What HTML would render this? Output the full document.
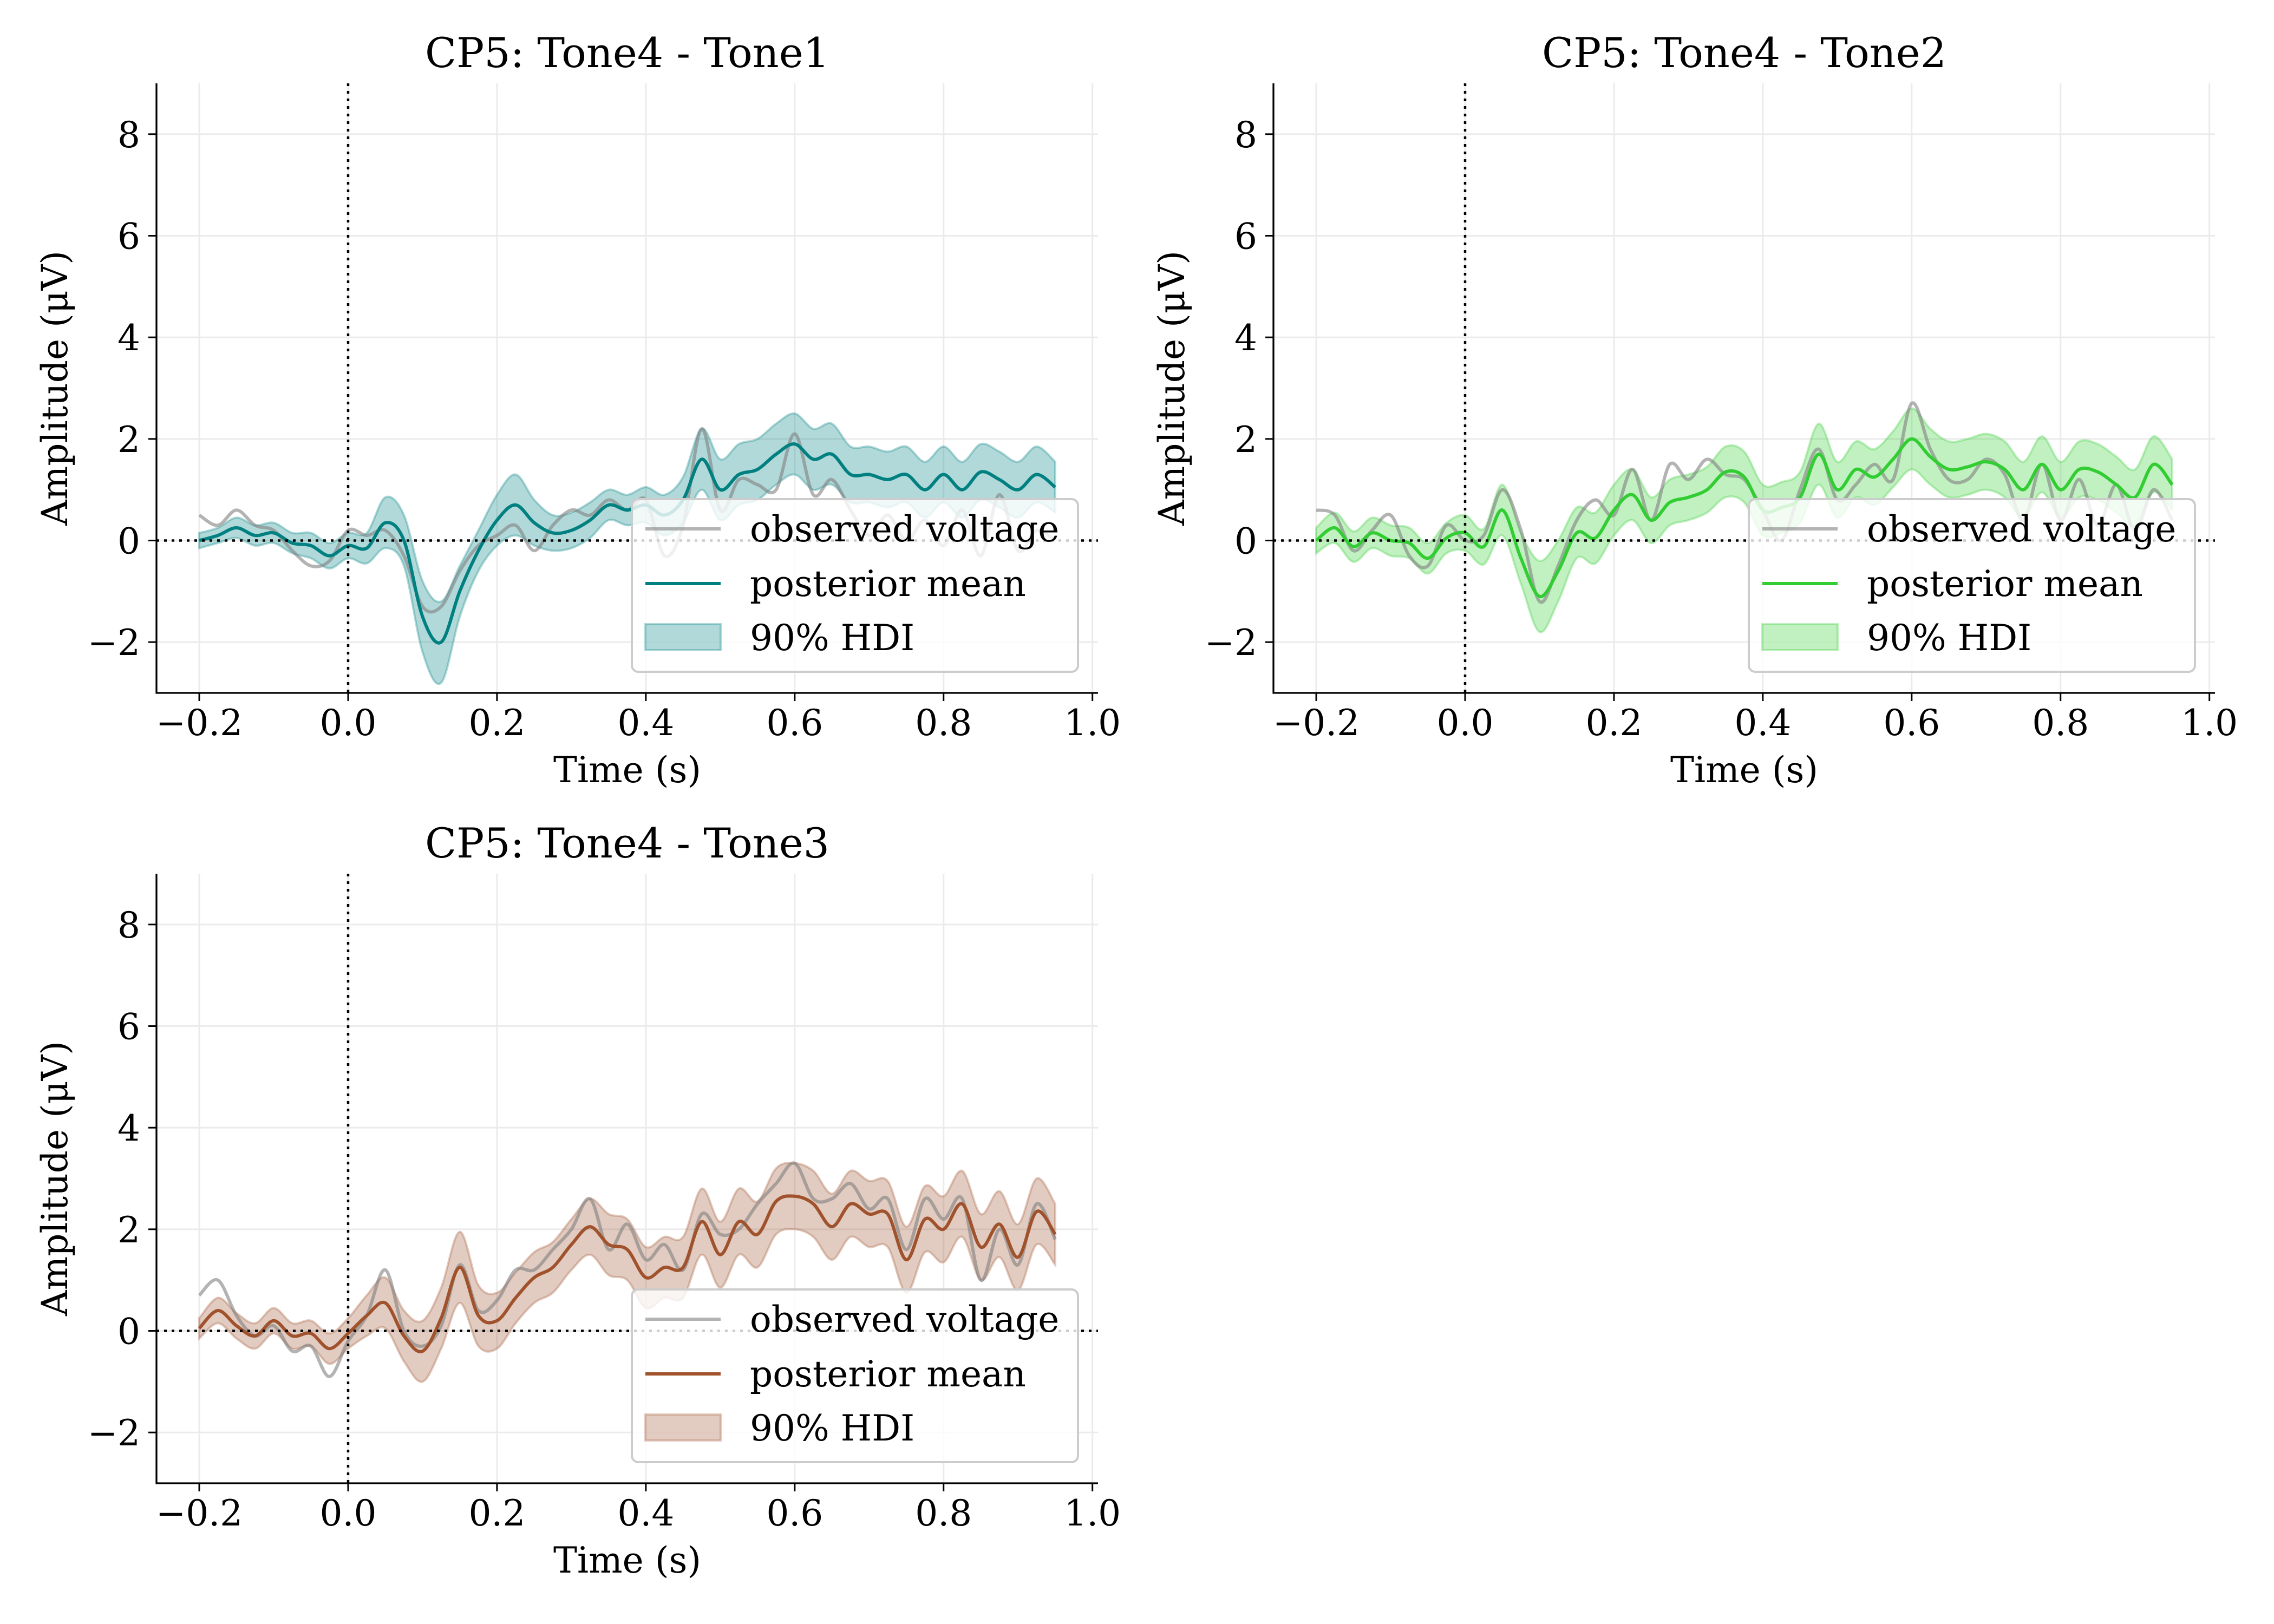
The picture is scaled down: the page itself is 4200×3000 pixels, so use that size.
<!DOCTYPE html>
<html><head><meta charset="utf-8"><style>
html,body{margin:0;padding:0;background:#fff;}
svg{display:block;font-family:"DejaVu Serif","Liberation Serif",serif;}
</style></head>
<body>
<svg id="chart" width="4200" height="3000" viewBox="0 0 4200 3000" xmlns="http://www.w3.org/2000/svg">
<rect width="4200" height="3000" fill="#fff"/>
</svg>
<script>
const times = [];
for (let i = 0; i < 47; i++) times.push(-0.2 + 0.025 * i);
const xTicks = [-0.2, 0.0, 0.2, 0.4, 0.6, 0.8, 1.0];
const xTickLabels = ["\u22120.2","0.0","0.2","0.4","0.6","0.8","1.0"];
const yTicks = [-2, 0, 2, 4, 6, 8];
const yTickLabels = ["\u22122","0","2","4","6","8"];
const titles = ["CP5: Tone4 - Tone1","CP5: Tone4 - Tone2","CP5: Tone4 - Tone3"];
const colors = ["#008080","#32cd32","#a0522d"];

const mean1 = [0,0.1,0.25,0.1,0.15,-0.05,-0.1,-0.3,-0.1,-0.15,0.35,0,-1.5,-2.0,-1.0,-0.2,0.4,0.7,0.35,0.15,0.2,0.4,0.7,0.6,0.7,0.5,0.8,1.6,1.0,1.3,1.4,1.7,1.9,1.6,1.7,1.3,1.3,1.2,1.3,1.0,1.3,1.0,1.35,1.2,1.0,1.3,1.05];
const obs1 = [0.5,0.3,0.6,0.3,0.2,-0.2,-0.5,-0.4,0.2,0.1,0.2,-0.3,-1.3,-1.3,-0.6,-0.1,0.1,0.3,-0.2,0.3,0.6,0.5,0.8,0.6,0.8,-0.3,0.3,2.2,0.6,1.2,1.1,1.0,2.1,0.9,1.2,0.6,0.1,0.5,0.0,0.4,-0.1,0.6,-0.3,0.9,-0.2,0.2,0.0];
const hw1 = [0.15,0.15,0.2,0.2,0.2,0.2,0.25,0.25,0.25,0.3,0.5,0.5,0.7,0.8,0.5,0.4,0.5,0.6,0.45,0.35,0.35,0.35,0.3,0.3,0.35,0.4,0.45,0.6,0.6,0.6,0.6,0.6,0.6,0.6,0.6,0.55,0.55,0.55,0.55,0.55,0.55,0.55,0.55,0.55,0.55,0.55,0.5];

const mean2 = [0,0.25,-0.12,0.15,0,-0.05,-0.35,0.05,0.15,-0.12,0.6,-0.35,-1.1,-0.6,0.15,0.05,0.6,0.9,0.4,0.75,0.85,1.0,1.35,1.25,0.6,0.65,0.85,1.7,1.0,1.4,1.25,1.6,2.0,1.65,1.4,1.45,1.55,1.4,1.0,1.5,1.0,1.4,1.35,1.1,0.85,1.5,1.1];
const obs2 = [0.6,0.5,-0.2,0.2,0.5,-0.3,-0.5,0.3,0.0,0.1,1.0,0.2,-1.2,-0.5,0.4,0.8,0.5,1.4,0.4,1.5,1.2,1.6,1.3,1.2,0.6,0.0,1.0,1.8,0.8,1.1,1.5,1.2,2.7,1.8,1.2,1.2,1.6,1.3,0.4,1.5,0.4,1.2,0.3,1.1,0.2,1.0,0.4];
const hw2 = [0.25,0.3,0.3,0.3,0.3,0.3,0.3,0.3,0.35,0.35,0.5,0.5,0.7,0.6,0.5,0.5,0.5,0.5,0.45,0.45,0.45,0.45,0.5,0.5,0.5,0.5,0.5,0.6,0.55,0.55,0.55,0.55,0.6,0.55,0.55,0.55,0.55,0.55,0.55,0.55,0.55,0.55,0.55,0.55,0.55,0.55,0.5];

const mean3 = [0.05,0.4,0.1,-0.1,0.2,-0.1,-0.05,-0.35,-0.05,0.3,0.55,-0.1,-0.4,0.25,1.25,0.3,0.2,0.65,1.05,1.25,1.7,2.05,1.7,1.6,1.05,1.25,1.25,2.15,1.5,2.15,1.9,2.55,2.65,2.5,2.05,2.5,2.3,2.3,1.4,2.2,2.0,2.5,1.65,2.1,1.45,2.35,1.9];
const obs3 = [0.7,1.0,0.3,-0.1,0.1,-0.4,-0.3,-0.9,-0.2,0.3,1.2,0.0,-0.3,0.1,1.3,0.4,0.6,1.2,1.2,1.6,2.0,2.6,1.6,2.1,1.4,1.7,1.2,2.3,1.9,2.0,2.5,2.9,3.3,2.6,2.6,2.9,2.4,2.6,1.6,2.6,2.2,2.6,1.0,2.0,1.3,2.5,1.8];
const hw3 = [0.2,0.25,0.25,0.25,0.25,0.25,0.25,0.3,0.3,0.4,0.5,0.5,0.6,0.6,0.7,0.6,0.55,0.5,0.5,0.5,0.5,0.55,0.6,0.6,0.6,0.6,0.6,0.65,0.65,0.65,0.65,0.65,0.65,0.65,0.65,0.65,0.65,0.65,0.65,0.65,0.65,0.65,0.65,0.65,0.65,0.65,0.6];

const means = [mean1, mean2, mean3];
const obss = [obs1, obs2, obs3];
const hws = [hw1, hw2, hw3];

const NS = "http://www.w3.org/2000/svg";
const svg = document.getElementById("chart");
function mk(tag, attrs, parent) {
  const e = document.createElementNS(NS, tag);
  for (const k in attrs) e.setAttribute(k, attrs[k]);
  (parent || svg).appendChild(e);
  return e;
}
function smoothPath(pts) {
  let d = "M" + pts[0][0].toFixed(1) + "," + pts[0][1].toFixed(1);
  for (let i = 0; i < pts.length - 1; i++) {
    const p0 = pts[Math.max(i - 1, 0)], p1 = pts[i], p2 = pts[i + 1], p3 = pts[Math.min(i + 2, pts.length - 1)];
    const c1x = p1[0] + (p2[0] - p0[0]) / 6, c1y = p1[1] + (p2[1] - p0[1]) / 6;
    const c2x = p2[0] - (p3[0] - p1[0]) / 6, c2y = p2[1] - (p3[1] - p1[1]) / 6;
    d += " C" + c1x.toFixed(1) + "," + c1y.toFixed(1) + " " + c2x.toFixed(1) + "," + c2y.toFixed(1) + " " + p2[0].toFixed(1) + "," + p2[1].toFixed(1);
  }
  return d;
}

const offsets = [[0, 0], [2063, 0], [0, 1460]];
const AX = { left: 289, right: 2028, top: 154, bottom: 1280 };
const XMIN = -0.2575, XMAX = 1.0075, YMIN = -3, YMAX = 9;

for (let p = 0; p < 3; p++) {
  const ox = offsets[p][0], oy = offsets[p][1];
  const L = AX.left + ox, R = AX.right + ox, T = AX.top + oy, B = AX.bottom + oy;
  const sx = v => L + (v - XMIN) / (XMAX - XMIN) * (R - L);
  const sy = v => B - (v - YMIN) / (YMAX - YMIN) * (B - T);
  const g = mk("g", {});
  
  
  const col = colors[p];

  // grid
  xTicks.forEach(t => {
    const l = mk("line", { x1: sx(t), x2: sx(t), y1: T, y2: B, stroke: "#ebebeb", "stroke-width": 3 }, g);
    
    
  });
  yTicks.forEach(t => {
    const l = mk("line", { x1: L, x2: R, y1: sy(t), y2: sy(t), stroke: "#ebebeb", "stroke-width": 3 }, g);
    
    
  });

  // HDI band
  const up = times.map((t, i) => [sx(t), sy(means[p][i] + hws[p][i])]);
  const lo = times.map((t, i) => [sx(t), sy(means[p][i] - hws[p][i])]).reverse();
  const bandD = smoothPath(up) + " L" + smoothPath(lo).slice(1) + " Z";
  const band = mk("path", { d: bandD, fill: col, "fill-opacity": 0.3, stroke: col, "stroke-opacity": 0.3, "stroke-width": 4 }, g);
  
  

  // observed
  const obsPath = mk("path", { d: smoothPath(times.map((t, i) => [sx(t), sy(obss[p][i])])), fill: "none", stroke: "#808080", "stroke-opacity": 0.6, "stroke-width": 6, "stroke-linejoin": "round" }, g);
  
  

  // mean
  const meanPath = mk("path", { d: smoothPath(times.map((t, i) => [sx(t), sy(means[p][i])])), fill: "none", stroke: col, "stroke-width": 6, "stroke-linejoin": "round" }, g);
  
  

  // reference dotted lines
  const h0 = mk("line", { x1: L, x2: R, y1: sy(0), y2: sy(0), stroke: "#000", "stroke-width": 4.5, "stroke-dasharray": "5,9" }, g);
  
  
  const v0 = mk("line", { x1: sx(0), x2: sx(0), y1: T, y2: B, stroke: "#000", "stroke-width": 4.5, "stroke-dasharray": "5,9" }, g);
  
  

  // spines
  const sl = mk("line", { x1: L, x2: L, y1: T, y2: B + 1.5, stroke: "#000", "stroke-width": 3.3 }, g);
  
  
  const sb = mk("line", { x1: L - 1.5, x2: R, y1: B, y2: B, stroke: "#000", "stroke-width": 3.3 }, g);
  
  

  // ticks
  xTicks.forEach((t, i) => {
    mk("line", { x1: sx(t), x2: sx(t), y1: B, y2: B + 15, stroke: "#000", "stroke-width": 3 }, g);
    const tx = mk("text", { x: sx(t), y: B + 78, "font-size": 66, "text-anchor": "middle", fill: "#000" }, g);
    tx.textContent = xTickLabels[i];
    
    
  });
  yTicks.forEach((t, i) => {
    mk("line", { x1: L - 15, x2: L, y1: sy(t), y2: sy(t), stroke: "#000", "stroke-width": 3 }, g);
    const ty = mk("text", { x: L - 30, y: sy(t) + 24, "font-size": 66, "text-anchor": "end", fill: "#000" }, g);
    ty.textContent = yTickLabels[i];
    
    
  });

  // labels
  const xl = mk("text", { x: (L + R) / 2, y: B + 165, "font-size": 66, "text-anchor": "middle", fill: "#000" }, g);
  xl.textContent = "Time (s)";
  
  
  const yl = mk("text", { x: 0, y: 0, "font-size": 66, "text-anchor": "middle", fill: "#000", transform: "translate(" + (L - 165) + "," + ((T + B) / 2) + ") rotate(-90)" }, g);
  yl.textContent = "Amplitude (\u03bcV)";
  
  
  const tt = mk("text", { x: (L + R) / 2, y: T - 30, "font-size": 76, "text-anchor": "middle", fill: "#000" }, g);
  tt.textContent = titles[p];
  
  

  // legend
  const lx = R - 37 - 824, ly = B - 39 - 319;
  const lg = mk("g", {}, g);
  
  
  mk("rect", { x: lx, y: ly, width: 824, height: 319, rx: 12, fill: "#fff", "fill-opacity": 0.8, stroke: "#cccccc", "stroke-width": 4 }, lg);
  const e1 = mk("line", { x1: lx + 25, x2: lx + 164, y1: ly + 55, y2: ly + 55, stroke: "#808080", "stroke-opacity": 0.6, "stroke-width": 6 }, lg);
  
  
  const t1 = mk("text", { x: lx + 218, y: ly + 78, "font-size": 66, fill: "#000" }, lg);
  t1.textContent = "observed voltage";
  
  
  const e2 = mk("line", { x1: lx + 25, x2: lx + 164, y1: ly + 156, y2: ly + 156, stroke: col, "stroke-width": 6 }, lg);
  
  
  const t2 = mk("text", { x: lx + 218, y: ly + 179, "font-size": 66, fill: "#000" }, lg);
  t2.textContent = "posterior mean";
  
  
  const e3 = mk("rect", { x: lx + 25, y: ly + 231, width: 139, height: 48, fill: col, "fill-opacity": 0.3, stroke: col, "stroke-opacity": 0.3, "stroke-width": 4 }, lg);
  
  
  const t3 = mk("text", { x: lx + 218, y: ly + 279, "font-size": 66, fill: "#000" }, lg);
  t3.textContent = "90% HDI";
  
  
}
</script>
</body></html>
